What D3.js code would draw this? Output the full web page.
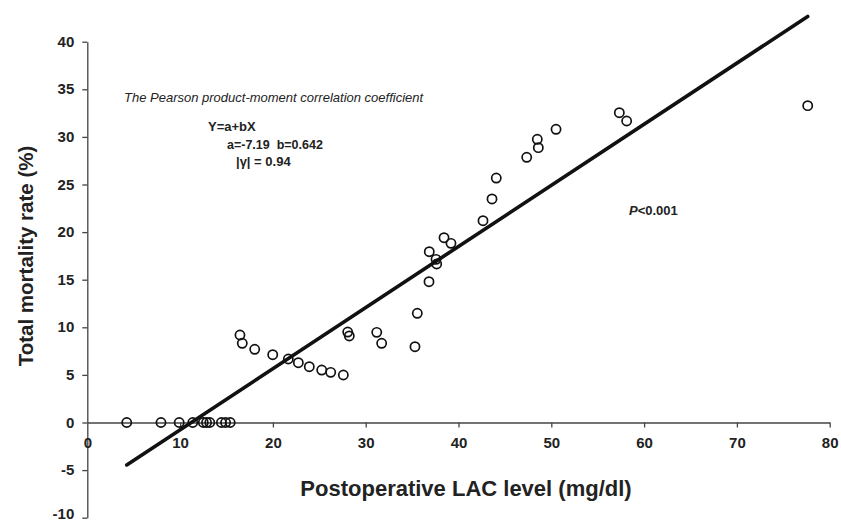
<!DOCTYPE html>
<html>
<head>
<meta charset="utf-8">
<script src="https://cdn.jsdelivr.net/npm/d3@7"></script>
<style>
  body { margin: 0; background: #fff; }
  svg { font-family: "Liberation Sans", Arial, Helvetica, sans-serif; }
  .axis path, .axis line { stroke: #444; stroke-width: 1.3; }
  .axis text { font-size: 15px; font-weight: bold; fill: #222; }
  .axis-title { font-weight: bold; fill: #222; }
  .note { font-size: 13px; fill: #222; }
</style>
</head>
<body>
<svg id="chart"></svg>
<script>
// Postoperative LAC level (mg/dl) vs total mortality rate (%)
const lacLevel = [
  4.25, 7.94, 9.9, 11.36, 12.5, 12.85, 13.2, 14.45, 14.9, 15.4,
  16.45, 16.7, 18.04, 19.98, 21.66, 22.74, 23.92, 25.26, 26.23, 27.59,
  28.06, 28.23, 31.19, 31.72, 35.31, 35.56,
  36.82, 36.85, 37.58, 37.65, 38.44, 39.19, 42.64, 43.61, 44.07,
  47.35, 48.49, 48.6, 50.51, 57.33, 58.12, 77.63
];
const mortality = [
  0, 0, 0, 0, 0, 0, 0, 0, 0, 0,
  9.19, 8.32, 7.69, 7.12, 6.67, 6.28, 5.86, 5.51, 5.27, 4.99,
  9.5, 9.09, 9.47, 8.32, 7.96, 11.47,
  14.79, 17.94, 17.14, 16.65, 19.41, 18.82, 21.2, 23.48, 25.68,
  27.86, 29.75, 28.87, 30.8, 32.54, 31.67, 33.28
];

// Regression Y = a + bX
const intercept = -7.19;
const slope = 0.642;

const xTicks = [0, 10, 20, 30, 40, 50, 60, 70, 80];
const yTicks = [-10, -5, 0, 5, 10, 15, 20, 25, 30, 35, 40];

const width = 841, height = 522;

const svg = d3.select('#chart')
  .attr('width', width)
  .attr('height', height);

const xScale = d3.scaleLinear().domain([0, 80]).range([87.3, 829.7]);
const yScale = d3.scaleLinear().domain([-10, 40]).range([517.7, 41.7]);

// y axis on the left (plain hyphen for negatives)
svg.append('g')
  .attr('class', 'axis y-axis')
  .attr('transform', `translate(${xScale(0)},0)`)
  .call(d3.axisLeft(yScale).tickValues(yTicks).tickFormat(d => String(d))
    .tickSize(5).tickPadding(8).tickSizeOuter(0))
  .call(g => g.selectAll('text').attr('dy', '0.3em'))
  // lowest label sits at the very bottom edge, nudge it up a little
  .call(g => g.selectAll('.tick').filter(d => d === -10).select('text').attr('dy', '0.05em'));

// x axis crosses at y = 0
svg.append('g')
  .attr('class', 'axis x-axis')
  .attr('transform', `translate(0,${yScale(0)})`)
  .call(d3.axisBottom(xScale).tickValues(xTicks).tickFormat(d => String(d))
    .tickSize(5).tickPadding(10).tickSizeOuter(0))
  .call(g => g.selectAll('.tick').filter(d => d === 0).select('line').remove());

// regression line across the data range
const xExtent = d3.extent(lacLevel);
svg.append('line')
  .attr('x1', xScale(xExtent[0]))
  .attr('y1', yScale(intercept + slope * xExtent[0]))
  .attr('x2', xScale(xExtent[1]))
  .attr('y2', yScale(intercept + slope * xExtent[1]))
  .attr('stroke', '#111')
  .attr('stroke-width', 3.6)
  .attr('stroke-linecap', 'round');

// data points
svg.append('g')
  .selectAll('circle')
  .data(lacLevel.map((x, i) => ({ x, y: mortality[i] })))
  .join('circle')
  .attr('cx', d => xScale(d.x))
  .attr('cy', d => yScale(d.y))
  .attr('r', 4.6)
  .attr('fill', 'none')
  .attr('stroke', '#111')
  .attr('stroke-width', 1.7);

// axis titles
svg.append('text')
  .attr('class', 'axis-title')
  .attr('x', 466)
  .attr('y', 496)
  .attr('text-anchor', 'middle')
  .style('font-size', '22px')
  .text('Postoperative LAC level (mg/dl)');

svg.append('text')
  .attr('class', 'axis-title')
  .attr('transform', 'translate(33,256) rotate(-90)')
  .attr('text-anchor', 'middle')
  .style('font-size', '20.5px')
  .text('Total mortality rate (%)');

// annotations
svg.append('text')
  .attr('class', 'note')
  .attr('x', 124)
  .attr('y', 102)
  .style('font-style', 'italic')
  .text('The Pearson product-moment correlation coefficient');

svg.append('text')
  .attr('class', 'note')
  .attr('x', 208)
  .attr('y', 131)
  .style('font-weight', 'bold')
  .text('Y=a+bX');

svg.append('text')
  .attr('class', 'note')
  .attr('x', 227)
  .attr('y', 149)
  .style('font-weight', 'bold')
  .style('font-size', '12.5px')
  .style('white-space', 'pre')
  .text('a=-7.19  b=0.642');

svg.append('text')
  .attr('class', 'note')
  .attr('x', 236)
  .attr('y', 166)
  .style('font-weight', 'bold')
  .text('|γ| = 0.94');

const pText = svg.append('text')
  .attr('class', 'note')
  .attr('x', 629)
  .attr('y', 215)
  .style('font-weight', 'bold');
pText.append('tspan').style('font-style', 'italic').text('P');
pText.append('tspan').text('<0.001');
</script>
</body>
</html>
